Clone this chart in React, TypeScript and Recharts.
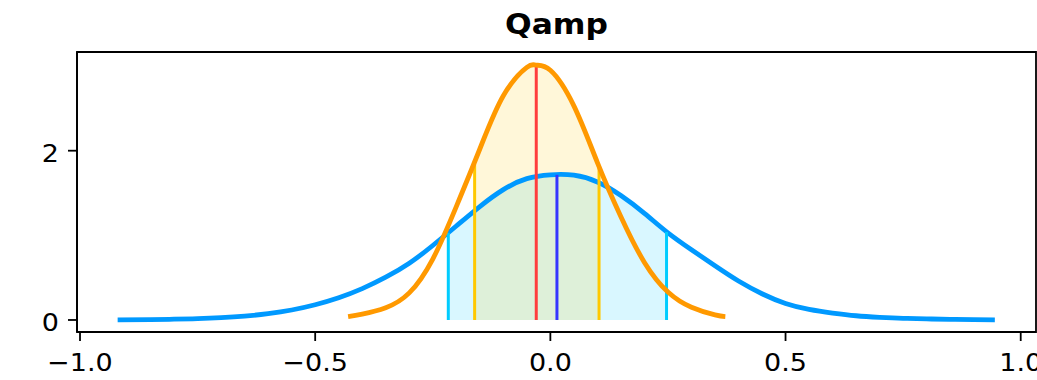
import React from 'react';
import { ComposedChart, Line, Area, XAxis, YAxis, ReferenceArea } from 'recharts';

const title = 'Qamp';

// Blue (wide) density curve
const blueX = [-0.92, -0.85, -0.8, -0.75, -0.7, -0.65, -0.6, -0.55, -0.5, -0.45, -0.4, -0.35, -0.3, -0.25, -0.2, -0.15, -0.1, -0.05, 0, 0.05, 0.1, 0.15, 0.2, 0.25, 0.3, 0.35, 0.4, 0.45, 0.5, 0.55, 0.6, 0.65, 0.7, 0.75, 0.8, 0.85, 0.9, 0.945];
const blueY = [0.002, 0.005, 0.009, 0.016, 0.027, 0.045, 0.075, 0.118, 0.18, 0.262, 0.37, 0.505, 0.67, 0.88, 1.11, 1.34, 1.54, 1.67, 1.715, 1.71, 1.63, 1.47, 1.26, 1.03, 0.83, 0.64, 0.46, 0.31, 0.195, 0.125, 0.082, 0.05, 0.032, 0.02, 0.013, 0.007, 0.004, 0.002];

// Orange (narrow) density curve
const orangeX = [-0.43, -0.4, -0.35, -0.3, -0.25, -0.2, -0.15, -0.1, -0.05, -0.03, 0, 0.05, 0.1, 0.15, 0.2, 0.25, 0.3, 0.35, 0.372];
const orangeY = [0.04, 0.07, 0.145, 0.32, 0.72, 1.34, 2.02, 2.65, 2.985, 3.01, 2.95, 2.53, 1.86, 1.22, 0.68, 0.33, 0.15, 0.06, 0.04];

// HDI bounds and the density heights read at them
const blueHdiX = [-0.217, 0.247];
const blueHdiY = [1.03, 1.04];
const orangeHdiX = [-0.161, 0.1035];
const orangeHdiY = [1.84, 1.81];

// Point estimates
const blueMeanX = 0.014;
const blueMeanY = 1.715;
const orangeMeanX = -0.03;
const orangeMeanY = 3.01;

const xTicks = [-1, -0.5, 0, 0.5, 1];
const yTicks = [0, 2];
const xDomain = [-1.0064, 1.0325];
const yDomain = [-0.142, 3.166];

const toPoints = (xs: number[], ys: number[]) => xs.map((x, i) => ({ x, y: ys[i] }));
const hdiPoints = (xs: number[], ys: number[], hx: number[], hy: number[]) => [
  { x: hx[0], y: hy[0] },
  ...toPoints(xs, ys).filter((p) => p.x > hx[0] && p.x < hx[1]),
  { x: hx[1], y: hy[1] },
];
const vline = (x: number, top: number) => [{ x, y: 0 }, { x, y: top }];

const blueData = toPoints(blueX, blueY);
const orangeData = toPoints(orangeX, orangeY);
const blueHdiData = hdiPoints(blueX, blueY, blueHdiX, blueHdiY);
const orangeHdiData = hdiPoints(orangeX, orangeY, orangeHdiX, orangeHdiY);

const C = {
  blue: '#0099ff',
  orange: '#ff9900',
  cyan: '#00ccff',
  yellow: '#ffc800',
  red: '#ff3d3d',
  mean: '#3535ff',
};

const FONT = '"DejaVu Sans", sans-serif';

const fmtX = (v: number) => v.toFixed(1).replace('-', '\u2212');

const XTick = (props: any) => {
  const { x, y, payload } = props;
  return (
    <text
      transform={`translate(${x},${y}) scale(1.08,1)`}
      textAnchor="middle"
      dy="0.71em"
      fontSize={25}
      fontFamily={FONT}
      fill="#000"
    >
      {fmtX(payload.value)}
    </text>
  );
};

const YTick = (props: any) => {
  const { x, y, payload } = props;
  return (
    <text
      transform={`translate(${x},${y}) scale(1.08,1)`}
      textAnchor="end"
      dy="0.45em"
      fontSize={25}
      fontFamily={FONT}
      fill="#000"
    >
      {String(payload.value)}
    </text>
  );
};

export default function App() {
  return (
    <div style={{ position: 'absolute', left: 0, top: 0, width: 1037, height: 380, background: '#fff' }}>
      <div
        style={{
          position: 'absolute',
          left: 77,
          width: 959,
          top: 11,
          textAlign: 'center',
          fontFamily: FONT,
          fontWeight: 'bold',
          fontSize: 28,
          lineHeight: '28px',
          color: '#000',
          transform: 'scaleX(1.12)',
        }}
      >
        {title}
      </div>
      <ComposedChart width={1037} height={380} margin={{ top: 52, right: 1, bottom: 0, left: 0 }}>
        <XAxis
          type="number"
          dataKey="x"
          domain={xDomain}
          allowDataOverflow
          ticks={xTicks}
          interval={0}
          height={48}
          tickSize={9}
          tickMargin={12}
          axisLine={{ stroke: '#000', strokeWidth: 1.8 }}
          tickLine={{ stroke: '#000', strokeWidth: 1.8 }}
          tick={<XTick />}
        />
        <YAxis
          type="number"
          dataKey="y"
          domain={yDomain}
          allowDataOverflow
          ticks={yTicks}
          interval={0}
          width={77}
          tickSize={9}
          tickMargin={9}
          axisLine={{ stroke: '#000', strokeWidth: 1.8 }}
          tickLine={{ stroke: '#000', strokeWidth: 1.8 }}
          tick={<YTick />}
        />
        <ReferenceArea
          x1={xDomain[0]}
          x2={xDomain[1]}
          y1={yDomain[0]}
          y2={yDomain[1]}
          fill="none"
          stroke="#000"
          strokeWidth={1.8}
          ifOverflow="visible"
        />
        <Area
          data={blueHdiData}
          dataKey="y"
          type="monotone"
          baseValue={0}
          fill={C.cyan}
          fillOpacity={0.15}
          stroke="none"
          isAnimationActive={false}
          activeDot={false}
        />
        <Area
          data={orangeHdiData}
          dataKey="y"
          type="monotone"
          baseValue={0}
          fill={C.yellow}
          fillOpacity={0.15}
          stroke="none"
          isAnimationActive={false}
          activeDot={false}
        />
        <Line data={blueData} dataKey="y" type="natural" stroke={C.blue} strokeWidth={4.8} dot={false} activeDot={false} isAnimationActive={false} />
        <Line data={vline(blueHdiX[0], blueHdiY[0])} dataKey="y" stroke={C.cyan} strokeWidth={3} dot={false} activeDot={false} isAnimationActive={false} />
        <Line data={vline(blueHdiX[1], blueHdiY[1])} dataKey="y" stroke={C.cyan} strokeWidth={3} dot={false} activeDot={false} isAnimationActive={false} />
        <Line data={vline(blueMeanX, blueMeanY)} dataKey="y" stroke={C.mean} strokeWidth={3} dot={false} activeDot={false} isAnimationActive={false} />
        <Line data={vline(orangeHdiX[0], orangeHdiY[0])} dataKey="y" stroke={C.yellow} strokeWidth={3} dot={false} activeDot={false} isAnimationActive={false} />
        <Line data={vline(orangeHdiX[1], orangeHdiY[1])} dataKey="y" stroke={C.yellow} strokeWidth={3} dot={false} activeDot={false} isAnimationActive={false} />
        <Line data={vline(orangeMeanX, orangeMeanY)} dataKey="y" stroke={C.red} strokeWidth={3} dot={false} activeDot={false} isAnimationActive={false} />
        <Line data={orangeData} dataKey="y" type="natural" stroke={C.orange} strokeWidth={4.8} dot={false} activeDot={false} isAnimationActive={false} />
      </ComposedChart>
    </div>
  );
}
